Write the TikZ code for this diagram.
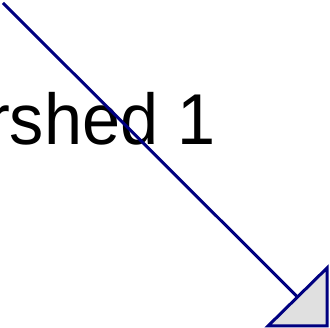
\documentclass[tikz,border=0pt]{standalone}
\usepackage{fontspec}
\setmainfont{Liberation Sans}
\usepackage{xcolor}
\usepackage{tikz}
\usetikzlibrary{calc,arrows.meta,positioning}
\definecolor{linec}{HTML}{000080}
\definecolor{headc}{HTML}{E0E0E0}
\tikzset{
  flow/.style={line width=3pt,linec,line join=miter},
  lbl/.style={font=\fontsize{72}{80}\selectfont,inner sep=0pt,text=black,xscale=0.95,transform shape}
}
\begin{document}
\begin{tikzpicture}[x=1pt,y=1pt]
\useasboundingbox (0,0) rectangle (330,328);
% label (cut at the left edge)
\node[lbl,anchor=base east] (name) at (215.5,183) {rshed 1};
% connector with open triangle head
\coordinate (src) at (3,325);
\coordinate (tip) at (327,2);
\coordinate (b1) at (268,2);
\coordinate (b2) at (327,60);
\coordinate (mid) at ($(b1)!0.5!(b2)$);
\draw[flow] (src) -- (mid);
\draw[flow,fill=headc] (b1) -- (tip) -- (b2) -- cycle;
\end{tikzpicture}
\end{document}
